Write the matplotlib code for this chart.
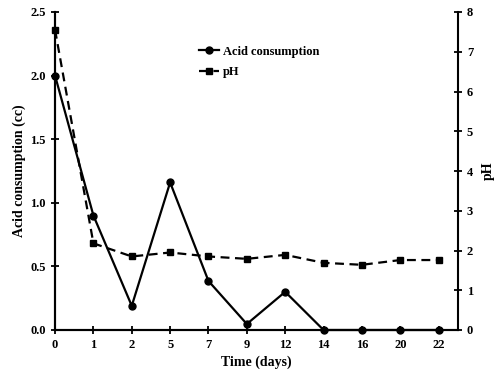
import matplotlib.pyplot as plt

days = ['0', '1', '2', '5', '7', '9', '12', '14', '16', '20', '22']
acid = [2.0, 0.90, 0.19, 1.16, 0.385, 0.047, 0.30, 0.0, 0.0, 0.0, 0.0]
ph = [7.55, 2.18, 1.85, 1.95, 1.85, 1.79, 1.89, 1.69, 1.64, 1.76, 1.76]

plt.rcParams['font.family'] = ['Liberation Serif', 'DejaVu Serif']
plt.rcParams['font.weight'] = 'bold'

fig = plt.figure(figsize=(4.96, 3.75), dpi=100)
ax = fig.add_axes([0.111, 0.12, 0.812, 0.848])
x = list(range(len(days)))

l1, = ax.plot(x, acid, 'k-', marker='o', ms=5, lw=1.6, label='Acid consumption', clip_on=False, zorder=3)
ax2 = ax.twinx()
l2, = ax2.plot(x, ph, 'k--', marker='s', ms=5, lw=1.6, dashes=(4, 2.5), label='pH', clip_on=False, zorder=3)

ax.set_xlim(0, 10.5)
ax.set_ylim(0, 2.5)
ax2.set_ylim(0, 8)
ax.set_xticks(x)
ax.set_xticklabels(days)
ax.set_yticks([0, 0.5, 1.0, 1.5, 2.0, 2.5])
ax.set_yticklabels(['0.0', '0.5', '1.0', '1.5', '2.0', '2.5'])
ax2.set_yticks(range(9))

for a in (ax, ax2):
    a.spines['top'].set_visible(False)
    for s in a.spines.values():
        s.set_linewidth(1.5)
    a.tick_params(direction='inout', length=6, width=1.3, labelsize=9)
ax.spines['right'].set_visible(False)

ax.set_xlabel('Time (days)', fontsize=10, fontweight='bold', labelpad=3)
ax.set_ylabel('Acid consumption (cc)', fontsize=10, fontweight='bold', labelpad=3)
ax2.set_ylabel('pH', fontsize=10, fontweight='bold', labelpad=6)

ax.legend(handles=[l1, l2], loc='upper left', bbox_to_anchor=(0.33, 0.93), frameon=False,
          fontsize=9, handlelength=1.6, handletextpad=0.3, labelspacing=0.7)

fig.savefig('out.png', dpi=100)
